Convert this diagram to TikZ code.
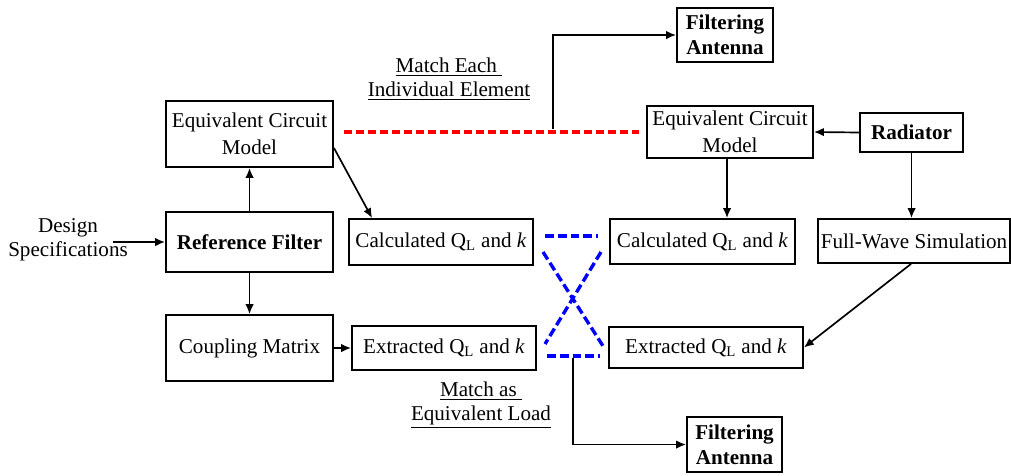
\documentclass[tikz,border=0pt]{standalone}
\usepackage{fontspec}
\setmainfont{LiberationSerif-Regular.ttf}[
  BoldFont=LiberationSerif-Bold.ttf,
  ItalicFont=LiberationSerif-Italic.ttf,
  BoldItalicFont=LiberationSerif-BoldItalic.ttf]
\usepackage{tikz}
\usetikzlibrary{calc, arrows.meta}

\begin{document}
\begin{tikzpicture}[x=0.025cm, y=-0.025cm,
  >={Latex[length=7pt,width=6pt]},
  blk/.style={draw, line width=1.3pt, align=center, inner sep=0pt,
    font=\fontsize{15}{19}\selectfont},
  txt/.style={align=center, inner sep=0pt, font=\fontsize{15}{17}\selectfont},
  conn/.style={->, line width=1.2pt},
  reddash/.style={draw=red, line width=2.4pt, dash pattern=on 0.2cm off 0.1cm},
  bluedash/.style={draw=blue, line width=2.4pt, dash pattern=on 0.22cm off 0.1cm}]
  \useasboundingbox (0,0) rectangle (1011,475);
  % Left column
  \node[txt] (spec) at (68,240) {Design\\Specifications};
  \node[blk, minimum width=4.175cm, minimum height=1.65cm] (ecl) at (249.5,134) {Equivalent Circuit\\Model};
  \node[blk, minimum width=4.175cm, minimum height=1.5cm] (ref) at (249.5,242) {\textbf{Reference Filter}};
  \node[blk, minimum width=4.175cm, minimum height=1.65cm] (cm) at (249.5,348) {Coupling Matrix};
  % Q_L and k boxes
  \node[blk, minimum width=4.6cm, minimum height=1.15cm] (calcl) at (441,242) {Calculated Q\textsubscript{L} and \textit{k}};
  \node[blk, minimum width=4.6cm, minimum height=1.1cm] (extl) at (444,348) {Extracted Q\textsubscript{L} and \textit{k}};
  \node[blk, minimum width=4.625cm, minimum height=1.125cm] (calcr) at (702.5,241.5) {Calculated Q\textsubscript{L} and \textit{k}};
  \node[blk, minimum width=4.85cm, minimum height=1.025cm] (extr) at (706,347.5) {Extracted Q\textsubscript{L} and \textit{k}};
  % Right column
  \node[blk, minimum width=4.15cm, minimum height=1.3cm] (ecr) at (730,132) {Equivalent Circuit\\Model};
  \node[blk, minimum width=2.575cm, minimum height=0.975cm] (rad) at (911.5,132.5) {\textbf{Radiator}};
  \node[blk, minimum width=4.8cm, minimum height=1.1cm] (fw) at (914,241) {Full-Wave Simulation};
  % Outputs
  \node[blk, minimum width=2.4cm, minimum height=1.35cm, font=\fontsize{15}{18}\selectfont\bfseries] (fat) at (725,35) {Filtering\\Antenna};
  \node[blk, minimum width=2.375cm, minimum height=1.375cm, font=\fontsize{15}{18}\selectfont\bfseries] (fab) at (734.5,444.5) {Filtering\\Antenna};
  \node[txt] (mtch1) at (449,79) {\underline{Match Each\ }\\\underline{Individual Element}};
  \node[txt] (mtch2) at (481,405) {\underline{Match as\ }\\\underline{Equivalent Load}};

  % Arrows
  \coordinate (specout) at (113,242);
  \draw[conn] (specout) -- (ref.west);
  \draw[conn] (ref.north) -- (ecl.south);
  \draw[conn] (ref.south) -- (cm.north);
  \draw[conn] (cm.east) -- (extl.west);
  \draw[conn] ([yshift=0.5cm]ecl.south east) -- ([xshift=0.6cm]calcl.north west);
  \draw[conn] (rad.west) -- (ecr.east);
  \draw[conn] (rad.south) -- (rad.south |- fw.north);
  \draw[conn] ([xshift=-0.075cm]ecr.south) -- ([xshift=-0.075cm]ecr.south |- calcr.north);
  \draw[conn] ([xshift=-0.075cm]fw.south) -- (extr.east);

  % Element-by-element match
  \draw[reddash, shorten <=0.25cm, shorten >=0.175cm] (ecl.east |- ecr.west) -- (ecr.west);
  \coordinate (mtop) at (553,129);
  \draw[conn] (mtop) |- (fat.west);

  % Equivalent load match
  \draw[bluedash] (545,236) -- (598,236);
  \draw[bluedash] (547,356) -- (600,356);
  \draw[bluedash] (543,252) -- (603,346);
  \draw[bluedash] (601,252) -- (545,344);
  \coordinate (mbot) at (573,358);
  \draw[conn] (mbot) |- (fab.west);
\end{tikzpicture}
\end{document}
